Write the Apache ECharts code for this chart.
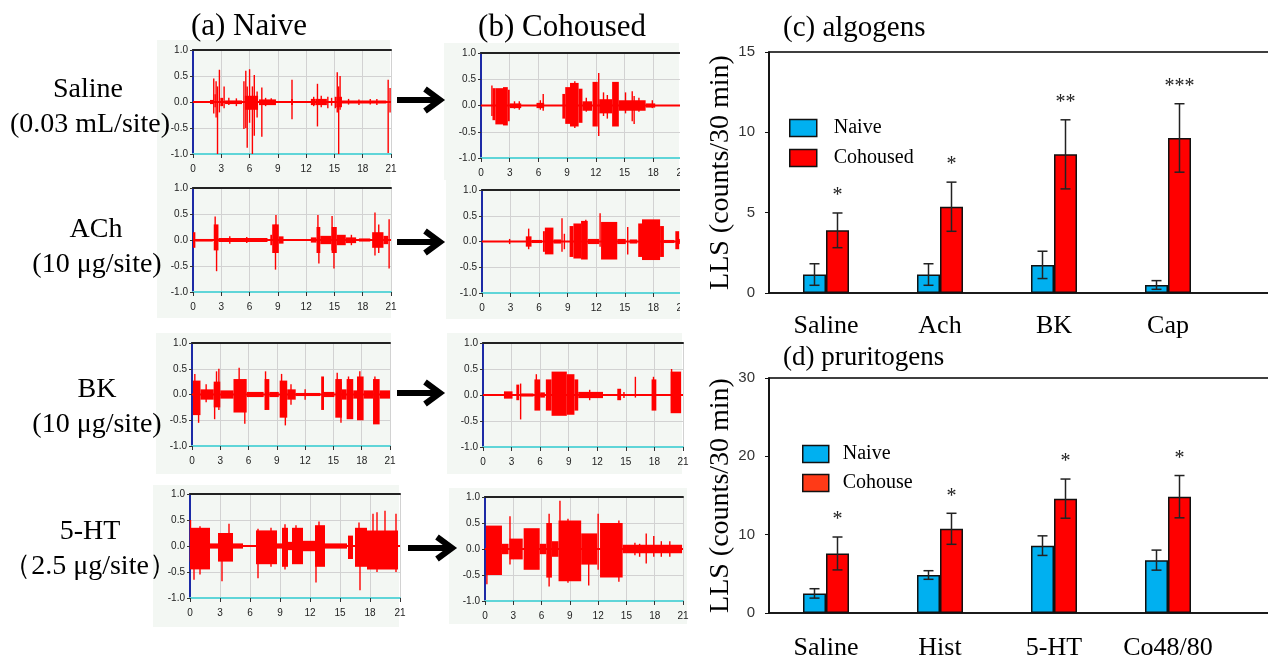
<!DOCTYPE html>
<html>
<head>
<meta charset="utf-8">
<title>LLS recordings</title>
<script src="https://cdn.jsdelivr.net/npm/echarts@6/dist/echarts.min.js"></script>
<style>
html, body { margin: 0; padding: 0; background: #fff; }
#main { width: 1268px; height: 661px; }
</style>
</head>
<body>
<div id="main"></div>
<script>
var chart = echarts.init(document.getElementById('main'));

// (c) algogens, LLS counts/30 min, mean and SEM
var algCats = ['Saline', 'Ach', 'BK', 'Cap'];
var algNaive = [1.15, 1.15, 1.75, 0.5];
var algNaiveErr = [0.67, 0.67, 0.85, 0.27];
var algCoh = [3.9, 5.37, 8.63, 9.65];
var algCohErr = [1.08, 1.53, 2.15, 2.13];
var algStars = ['*', '*', '**', '***'];

// (d) pruritogens
var pruCats = ['Saline', 'Hist', '5-HT', 'Co48/80'];
var pruNaive = [2.5, 4.85, 8.6, 6.75];
var pruNaiveErr = [0.6, 0.55, 1.25, 1.28];
var pruCoh = [7.6, 10.75, 14.6, 14.85];
var pruCohErr = [2.1, 1.98, 2.5, 2.7];
var pruStars = ['*', '*', '*', '*'];

// recording traces: [start min, end min, upper, lower] (start == end is a single spike)
var salineNaive = [
  [1.8, 2.2, 0.04, -0.04], [2.2, 2.2, 0.45, -0.22], [2.35, 2.35, 0.15, -0.1], [2.45, 2.45, 0.4, -0.3],
  [2.6, 2.6, 0.3, -1.0], [2.8, 2.8, 0.62, -0.2], [2.9, 3.2, 0.08, -0.08], [3.3, 3.3, 0.3, -0.12],
  [3.4, 5.2, 0.03, -0.04], [3.8, 3.8, 0.08, -0.06], [4.6, 4.6, 0.07, -0.08], [5.4, 5.4, 0.4, -0.52],
  [5.5, 6.9, 0.12, -0.15], [5.6, 5.6, 0.6, -0.5], [5.75, 5.75, 0.3, -0.88], [6.0, 6.0, 0.63, -0.4],
  [6.3, 6.3, 0.3, -1.0], [6.5, 6.5, 0.52, -0.65], [6.8, 6.8, 0.2, -0.3], [7.3, 7.3, 0.28, -0.67],
  [7.0, 8.8, 0.05, -0.06], [7.7, 7.7, 0.08, -0.08], [8.3, 8.3, 0.07, -0.05], [10.4, 10.6, 0.06, -0.06],
  [10.5, 10.5, 0.43, -0.33], [12.5, 13.0, 0.06, -0.06], [12.8, 12.8, 0.1, -0.08], [13.2, 13.2, 0.35, -0.47],
  [13.0, 14.2, 0.06, -0.06], [13.6, 13.6, 0.12, -0.1], [14.3, 14.3, 0.1, -0.12], [14.7, 14.7, 0.08, -0.07],
  [15.1, 15.1, 0.1, -0.12], [15.2, 15.8, 0.1, -0.1], [15.3, 15.3, 0.57, -0.2], [15.45, 15.45, 0.3, -1.0],
  [15.6, 15.6, 0.5, -0.15], [15.8, 20.5, 0.03, -0.03], [16.5, 16.5, 0.06, -0.05], [17.6, 17.6, 0.05, -0.06],
  [18.8, 18.8, 0.06, -0.05], [19.5, 19.5, 0.06, -0.06], [20.7, 20.7, 0.43, -0.98], [20.9, 20.9, 0.27, -0.2]
];
var salineCoh = [
  [1.14, 1.14, 0.38, -0.2], [1.2, 1.5, 0.33, -0.28], [1.5, 2.3, 0.33, -0.36], [2.3, 2.8, 0.35, -0.38],
  [2.8, 3.0, 0.3, -0.3], [3.0, 4.2, 0.04, -0.05], [3.5, 3.5, 0.08, -0.06], [4.0, 4.0, 0.08, -0.08],
  [5.8, 6.6, 0.05, -0.05], [6.2, 6.2, 0.1, -0.08], [6.5, 6.5, 0.22, -0.1], [8.5, 8.8, 0.22, -0.25],
  [8.8, 9.3, 0.35, -0.35], [9.3, 10.2, 0.43, -0.4], [9.8, 9.8, 0.46, -0.43], [10.2, 10.6, 0.32, -0.33],
  [10.6, 11.6, 0.08, -0.1], [11.0, 11.0, 0.15, -0.12], [11.65, 12.2, 0.45, -0.4], [12.3, 12.3, 0.62, -0.58],
  [12.35, 13.7, 0.12, -0.15], [12.8, 12.8, 0.25, -0.2], [13.2, 13.2, 0.2, -0.25], [13.7, 14.4, 0.45, -0.4],
  [14.4, 17.2, 0.1, -0.1], [15.1, 15.1, 0.25, -0.15], [15.8, 15.8, 0.27, -0.3], [16.0, 16.0, 0.18, -0.35],
  [16.5, 16.5, 0.15, -0.12], [17.2, 18.2, 0.04, -0.04], [17.9, 17.9, 0.1, -0.05]
];
var achNaive = [
  [0, 0.25, 0.15, -0.15], [0.25, 2.1, 0.02, -0.03], [2.2, 2.7, 0.3, -0.2], [2.35, 2.35, 0.45, -0.15],
  [2.5, 2.5, 0.25, -0.6], [2.7, 7.9, 0.04, -0.04], [3.9, 3.9, 0.07, -0.07], [5.7, 5.7, 0.06, -0.06],
  [8.2, 8.4, 0.1, -0.1], [8.4, 9.1, 0.3, -0.25], [8.8, 8.8, 0.48, -0.2], [8.75, 8.75, 0.3, -0.57],
  [9.1, 9.6, 0.07, -0.07], [12.5, 13.1, 0.05, -0.05], [13.1, 13.5, 0.25, -0.25], [13.25, 13.25, 0.48, -0.2],
  [13.35, 13.35, 0.2, -0.45], [13.5, 14.7, 0.08, -0.08], [14.7, 15.25, 0.25, -0.25], [14.75, 14.75, 0.46, -0.2],
  [14.95, 14.95, 0.2, -0.55], [15.25, 16.2, 0.1, -0.1], [16.2, 17.3, 0.05, -0.06], [16.8, 16.8, 0.1, -0.1],
  [17.6, 18.8, 0.03, -0.03], [19.0, 20.2, 0.15, -0.15], [19.3, 19.3, 0.53, -0.3], [19.7, 19.7, 0.3, -0.25],
  [20.2, 20.7, 0.08, -0.08], [20.8, 20.8, 0.4, -0.55]
];
var achCoh = [
  [2.9, 2.9, 0.05, -0.05], [4.6, 5.2, 0.1, -0.1], [4.9, 4.9, 0.25, -0.15], [5.2, 6.3, 0.03, -0.03],
  [6.4, 6.6, 0.2, -0.2], [6.6, 7.5, 0.27, -0.25], [7.5, 8.3, 0.04, -0.04], [8.4, 8.4, 0.45, -0.2],
  [8.65, 8.65, 0.15, -0.15], [9.2, 9.6, 0.3, -0.3], [9.6, 10.4, 0.35, -0.33], [10.4, 11.1, 0.4, -0.35],
  [10.9, 10.9, 0.42, -0.3], [11.1, 12.3, 0.05, -0.05], [12.4, 12.4, 0.55, -0.1], [12.5, 14.2, 0.38, -0.35],
  [14.2, 15.1, 0.05, -0.05], [15.3, 15.3, 0.28, -0.25], [15.5, 16.3, 0.04, -0.04], [16.4, 16.8, 0.35, -0.3],
  [16.8, 18.7, 0.43, -0.36], [18.7, 19.1, 0.3, -0.3], [19.1, 20.2, 0.03, -0.03], [20.3, 20.7, 0.2, -0.15],
  [20.7, 21, 0.05, -0.05]
];
var bkNaive = [
  [0.1, 0.9, 0.27, -0.4], [0.3, 0.3, 0.4, -0.2], [0.7, 0.7, 0.2, -0.55], [0.9, 2.3, 0.1, -0.1],
  [1.5, 1.5, 0.2, -0.15], [2.3, 3.0, 0.25, -0.25], [2.6, 2.6, 0.45, -0.2], [2.85, 2.85, 0.5, -0.3],
  [2.4, 2.4, 0.2, -0.48], [3.0, 4.4, 0.08, -0.08], [4.4, 5.8, 0.3, -0.35], [5.0, 5.0, 0.52, -0.3],
  [5.6, 5.6, 0.3, -0.57], [5.8, 7.6, 0.05, -0.05], [7.7, 8.2, 0.3, -0.3], [7.8, 7.8, 0.45, -0.3],
  [8.2, 9.2, 0.05, -0.05], [9.3, 10.1, 0.27, -0.45], [9.5, 9.5, 0.4, -0.3], [9.9, 9.9, 0.25, -0.6],
  [10.1, 11.0, 0.1, -0.1], [10.5, 10.5, 0.2, -0.2], [11.0, 13.6, 0.03, -0.03], [12.0, 12.0, 0.1, -0.1],
  [13.7, 14.0, 0.35, -0.3], [14.0, 15.1, 0.05, -0.05], [15.2, 15.9, 0.3, -0.45], [15.4, 15.4, 0.42, -0.3],
  [15.8, 15.8, 0.25, -0.55], [15.9, 16.4, 0.1, -0.1], [16.4, 17.1, 0.3, -0.48], [16.6, 16.6, 0.35, -0.3],
  [17.1, 17.5, 0.08, -0.08], [17.5, 18.2, 0.35, -0.5], [17.8, 17.8, 0.45, -0.3], [18.2, 19.2, 0.08, -0.08],
  [19.2, 19.9, 0.3, -0.58], [19.4, 19.4, 0.35, -0.3], [19.9, 21, 0.08, -0.08]
];
var bkCoh = [
  [2.2, 3.1, 0.07, -0.07], [3.5, 3.8, 0.2, -0.1], [3.95, 3.95, 0.22, -0.47], [4.0, 5.3, 0.03, -0.03],
  [5.4, 6.0, 0.3, -0.3], [5.6, 5.6, 0.4, -0.25], [6.0, 6.5, 0.05, -0.05], [6.6, 7.2, 0.3, -0.3],
  [7.2, 8.8, 0.45, -0.4], [8.8, 9.6, 0.4, -0.38], [9.6, 10.0, 0.3, -0.3], [10.0, 12.6, 0.06, -0.06],
  [11.2, 11.2, 0.1, -0.1], [14.1, 14.5, 0.12, -0.1], [14.8, 14.8, 0.06, -0.06], [16.0, 16.0, 0.35, -0.05],
  [17.7, 18.2, 0.3, -0.3], [17.9, 17.9, 0.35, -0.2], [19.7, 20.8, 0.45, -0.35], [19.8, 19.8, 0.5, -0.3]
];
var htNaive = [
  [0, 2.0, 0.35, -0.45], [0.05, 0.05, 0.5, -0.3], [0.4, 0.4, 0.3, -0.65], [1.0, 1.0, 0.38, -0.55],
  [2.0, 2.8, 0.05, -0.05], [2.8, 4.3, 0.25, -0.3], [3.2, 3.2, 0.2, -0.68], [3.9, 3.9, 0.43, -0.2],
  [4.3, 5.3, 0.05, -0.05], [6.6, 7.7, 0.3, -0.35], [6.8, 6.8, 0.33, -0.62], [7.7, 8.7, 0.3, -0.35],
  [8.1, 8.1, 0.35, -0.4], [8.7, 9.2, 0.05, -0.05], [9.2, 9.8, 0.35, -0.4], [9.5, 9.5, 0.42, -0.45],
  [9.8, 10.2, 0.08, -0.08], [10.2, 11.3, 0.35, -0.35], [10.6, 10.6, 0.4, -0.3], [11.3, 12.5, 0.1, -0.1],
  [12.6, 12.6, 0.2, -0.7], [12.5, 13.5, 0.4, -0.4], [12.9, 12.9, 0.47, -0.3], [13.5, 15.7, 0.05, -0.05],
  [15.8, 16.3, 0.2, -0.25], [16.5, 17.7, 0.35, -0.4], [16.9, 16.9, 0.45, -0.3], [17.0, 17.0, 0.2, -0.85],
  [17.7, 20.8, 0.3, -0.45], [18.3, 18.3, 0.62, -0.3], [18.7, 18.7, 0.65, -0.5], [19.5, 19.5, 0.68, -0.3],
  [20.6, 20.6, 0.62, -0.5]
];
var htCoh = [
  [0.1, 1.8, 0.45, -0.5], [0.2, 0.2, 0.3, -0.68], [1.8, 2.5, 0.1, -0.1], [2.65, 2.65, 0.63, -0.3],
  [2.6, 4.0, 0.2, -0.2], [4.1, 5.8, 0.4, -0.4], [5.8, 6.5, 0.1, -0.1], [6.5, 7.1, 0.5, -0.55],
  [6.8, 6.8, 0.68, -0.72], [7.1, 7.8, 0.15, -0.15], [7.95, 7.95, 0.93, -0.3], [7.8, 10.2, 0.55, -0.62],
  [8.8, 8.8, 0.58, -0.65], [10.2, 11.9, 0.3, -0.3], [11.0, 11.0, 0.2, -0.7], [12.0, 12.0, 0.68, -0.4],
  [12.2, 14.6, 0.5, -0.55], [14.2, 14.2, 0.55, -0.63], [14.6, 20.9, 0.08, -0.08], [15.9, 15.9, 0.12, -0.12],
  [16.4, 16.4, 0.1, -0.15], [17.1, 17.1, 0.3, -0.28], [17.9, 17.9, 0.25, -0.15], [18.7, 18.7, 0.15, -0.15],
  [19.6, 19.6, 0.15, -0.15]
];
var baseline = [[0, 0], [21, 0]];

var serif = '"Liberation Serif", "Times New Roman", serif';
var sans = '"Liberation Sans", Arial, sans-serif';

// panel placement on the page
var panels = [
  { data: salineNaive, left: 193, top: 50, width: 198, height: 104, bg: [157, 40, 233, 140] },
  { data: salineCoh, left: 481, top: 53, width: 201, height: 105, bg: [444, 43, 235, 137] },
  { data: achNaive, left: 193, top: 188, width: 198, height: 104, bg: [157, 180, 234, 138] },
  { data: achCoh, left: 482, top: 190, width: 200, height: 103, bg: [446, 180, 234, 139] },
  { data: bkNaive, left: 192, top: 343, width: 198, height: 103, bg: [156, 333, 235, 141] },
  { data: bkCoh, left: 483, top: 343, width: 200, height: 104, bg: [447, 333, 235, 141] },
  { data: htNaive, left: 190, top: 494, width: 210, height: 104, bg: [153, 485, 246, 142] },
  { data: htCoh, left: 485, top: 497, width: 198, height: 104, bg: [449, 488, 238, 136] }
];

function renderSeg(params, api) {
  var p0 = api.coord([api.value(0), api.value(2)]);
  var p1 = api.coord([api.value(1), api.value(3)]);
  var w = p1[0] - p0[0];
  var x = p0[0];
  if (w < 1.4) { x = p0[0] - 0.7; w = 1.4; }
  return {
    type: 'rect',
    shape: { x: x, y: p0[1], width: w, height: p1[1] - p0[1] },
    style: { fill: '#ff0000' }
  };
}

var grids = [], xAxes = [], yAxes = [], series = [], graphics = [];

panels.forEach(function (p, i) {
  graphics.push({
    type: 'rect', z: -10, silent: true,
    shape: { x: p.bg[0], y: p.bg[1], width: p.bg[2], height: p.bg[3] },
    style: { fill: '#f3f7f3' }
  });
  grids.push({ left: p.left, top: p.top, width: p.width, height: p.height, containLabel: false, outerBoundsMode: 'none' });
  xAxes.push({
    gridIndex: i, type: 'value', min: 0, max: 21, interval: 3,
    axisLine: { onZero: false, lineStyle: { color: '#5fd5d8', width: 2 } },
    axisTick: { length: 4, lineStyle: { color: '#333' } },
    axisLabel: { fontSize: 10, color: '#222', margin: 10, fontFamily: sans },
    splitLine: { show: true, lineStyle: { color: '#d2d2d2' } }
  });
  xAxes.push({
    gridIndex: i, type: 'value', position: 'top', min: 0, max: 21,
    axisLine: { show: true, onZero: false, lineStyle: { color: '#222', width: 2 } },
    axisTick: { show: false }, axisLabel: { show: false }, splitLine: { show: false }
  });
  yAxes.push({
    gridIndex: i, type: 'value', min: -1, max: 1, interval: 0.5,
    axisLine: { show: true, onZero: false, lineStyle: { color: '#1c2aa6', width: 2 } },
    axisTick: { show: true, length: 3, lineStyle: { color: '#333' } },
    axisLabel: {
      fontSize: 10, color: '#222', margin: 5, fontFamily: sans,
      formatter: function (v) { return v.toFixed(1); }
    },
    splitLine: { show: true, lineStyle: { color: '#d2d2d2' } }
  });
  series.push({
    type: 'line', xAxisIndex: 2 * i, yAxisIndex: i, data: baseline,
    symbol: 'none', silent: true, lineStyle: { color: '#ff0000', width: 2 }, z: 2
  });
  series.push({
    type: 'custom', xAxisIndex: 2 * i, yAxisIndex: i, data: p.data,
    renderItem: renderSeg, encode: { x: [0, 1], y: [2, 3] }, silent: true, z: 3
  });
});

// the cohoused screenshots are cut off on the right
graphics.push({ type: 'rect', z: 50, silent: true, shape: { x: 680, y: 40, width: 12, height: 280 }, style: { fill: '#fff' } });

// bar charts
grids.push({ left: 769, top: 52, width: 570, height: 241, show: true, borderColor: '#000', borderWidth: 1.6, containLabel: false, outerBoundsMode: 'none' });
grids.push({ left: 769, top: 378, width: 570, height: 235, show: true, borderColor: '#000', borderWidth: 1.6, containLabel: false, outerBoundsMode: 'none' });

function catAxis(gi, cats, gap) {
  return {
    gridIndex: gi, type: 'category', data: cats.concat(['']),
    axisLine: { onZero: false, lineStyle: { color: '#111', width: 1.6 } },
    axisTick: { show: false },
    axisLabel: { fontFamily: serif, fontSize: 26, color: '#000', margin: gap, interval: 0 }
  };
}
function valAxis(gi, max, step) {
  return {
    gridIndex: gi, type: 'value', min: 0, max: max, interval: step,
    name: 'LLS (counts/30 min)', nameLocation: 'middle', nameGap: 34,
    nameTextStyle: { fontFamily: serif, fontSize: 28, color: '#000' },
    axisLine: { show: true, lineStyle: { color: '#111', width: 1.6 } },
    axisTick: { show: true, length: 4, lineStyle: { color: '#111' } },
    axisLabel: { fontFamily: sans, fontSize: 15, color: '#333', margin: 14 },
    splitLine: { show: false }
  };
}
xAxes.push(catAxis(8, algCats, 20), catAxis(9, pruCats, 22));
yAxes.push(valAxis(8, 15, 5), valAxis(9, 30, 10));

function errItem(offset, stars) {
  return function (params, api) {
    var i = api.value(0), m = api.value(1), s = api.value(2);
    var top = api.coord([i, m + s]);
    var bot = api.coord([i, m - s]);
    var x = top[0] + offset;
    var st = { stroke: '#222', lineWidth: 1.5 };
    var kids = [
      { type: 'line', shape: { x1: x, y1: top[1], x2: x, y2: bot[1] }, style: st },
      { type: 'line', shape: { x1: x - 5, y1: top[1], x2: x + 5, y2: top[1] }, style: st },
      { type: 'line', shape: { x1: x - 5, y1: bot[1], x2: x + 5, y2: bot[1] }, style: st }
    ];
    if (stars) {
      kids.push({
        type: 'text', x: x, y: top[1] - 7,
        style: { text: stars[i], font: '20px ' + serif, fill: '#222', align: 'center', verticalAlign: 'bottom', textAlign: 'center', textVerticalAlign: 'bottom' }
      });
    }
    return { type: 'group', children: kids };
  };
}

function barSet(xi, yi, names, naive, naiveErr, coh, cohErr, stars) {
  series.push({
    type: 'bar', name: 'Naive', xAxisIndex: xi, yAxisIndex: yi, data: naive,
    barWidth: 23, barGap: '0%', itemStyle: { color: '#00b0f0', borderColor: '#111', borderWidth: 1.5 }
  });
  series.push({
    type: 'bar', name: names, xAxisIndex: xi, yAxisIndex: yi, data: coh,
    barWidth: 23, barGap: '0%', itemStyle: { color: '#ff0000', borderColor: '#111', borderWidth: 1.5 }
  });
  series.push({
    type: 'custom', xAxisIndex: xi, yAxisIndex: yi, z: 5, silent: true,
    data: naive.map(function (v, i) { return [i, v, naiveErr[i]]; }),
    renderItem: errItem(-11.5, null), encode: { x: 0, y: [1, 2] }
  });
  series.push({
    type: 'custom', xAxisIndex: xi, yAxisIndex: yi, z: 5, silent: true,
    data: coh.map(function (v, i) { return [i, v, cohErr[i]]; }),
    renderItem: errItem(11.5, stars), encode: { x: 0, y: [1, 2] }
  });
}
barSet(16, 8, 'Cohoused', algNaive, algNaiveErr, algCoh, algCohErr, algStars);
barSet(17, 9, 'Cohouse', pruNaive, pruNaiveErr, pruCoh, pruCohErr, pruStars);

// text labels and arrows
function label(text, x, y, size, align) {
  graphics.push({
    type: 'text', x: x, y: y, silent: true,
    style: { text: text, font: size + 'px ' + serif, fill: '#000', align: align || 'center', verticalAlign: 'middle', textAlign: align || 'center', textVerticalAlign: 'middle' }
  });
}
label('(a) Naive', 249, 27, 31);
label('(b) Cohoused', 562, 28, 31);
label('(c) algogens', 783, 28, 29, 'left');
label('(d) pruritogens', 783, 358, 27, 'left');
label('Saline', 88, 90, 28);
label('(0.03 mL/site)', 90, 125, 28);
label('ACh', 96, 230, 28);
label('(10 μg/site)', 97, 265, 28);
label('BK', 97, 390, 28);
label('(10 μg/site)', 97, 425, 28);
label('5-HT', 90, 532, 28);
label('（2.5 μg/site）', 90, 567, 28);

function arrow(x0, x1, y) {
  graphics.push({
    type: 'group', silent: true,
    children: [
      { type: 'line', shape: { x1: x0, y1: y, x2: x1 - 4, y2: y }, style: { stroke: '#000', lineWidth: 6 } },
      { type: 'polyline', shape: { points: [[x1 - 15, y - 11], [x1, y], [x1 - 15, y + 11]] }, style: { stroke: '#000', lineWidth: 6, fill: null, lineJoin: 'miter' } }
    ]
  });
}
arrow(397, 440, 100);
arrow(397, 440, 242);
arrow(397, 440, 393);
arrow(408, 452, 548);

var option = {
  animation: false,
  backgroundColor: '#ffffff',
  grid: grids,
  xAxis: xAxes,
  yAxis: yAxes,
  legend: [
    {
      data: ['Naive', 'Cohoused'], left: 789, top: 118, orient: 'vertical', padding: 0,
      itemWidth: 27, itemHeight: 17, itemGap: 10, selectedMode: false, icon: 'rect',
      itemStyle: { borderColor: '#111', borderWidth: 1.5 },
      textStyle: { fontFamily: serif, fontSize: 20, color: '#000', padding: [0, 0, 0, 12] }
    },
    {
      data: ['Naive', { name: 'Cohouse', itemStyle: { color: '#ff3a17' } }], left: 802, top: 444, orient: 'vertical', padding: 0,
      itemWidth: 26, itemHeight: 17, itemGap: 9, selectedMode: false, icon: 'rect',
      itemStyle: { borderColor: '#111', borderWidth: 1.5 },
      textStyle: { fontFamily: serif, fontSize: 20, color: '#000', padding: [0, 0, 0, 9] }
    }
  ],
  graphic: graphics,
  series: series
};

chart.setOption(option);
</script>
</body>
</html>
